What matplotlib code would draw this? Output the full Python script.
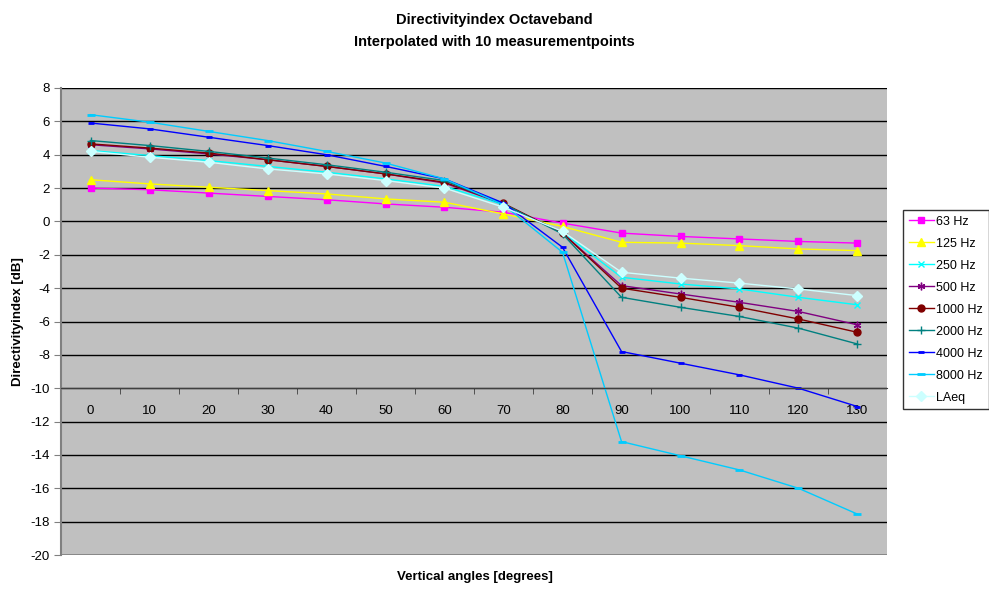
import numpy as np
import matplotlib
matplotlib.use("Agg")
import matplotlib.pyplot as plt

plt.rcParams['font.family'] = ['Liberation Sans', 'DejaVu Sans']
plt.rcParams['axes.unicode_minus'] = False

# vertical angles in degrees
angles = [0, 10, 20, 30, 40, 50, 60, 70, 80, 90, 100, 110, 120, 130]

# directivity index [dB] per octave band
di_63 = [2.0, 1.9, 1.7, 1.5, 1.3, 1.05, 0.85, 0.55, -0.1, -0.7, -0.9, -1.05, -1.2, -1.3]
di_125 = [2.5, 2.25, 2.05, 1.85, 1.65, 1.35, 1.15, 0.45, -0.3, -1.25, -1.3, -1.45, -1.65, -1.75]
di_250 = [4.25, 3.95, 3.65, 3.3, 2.95, 2.55, 2.1, 1.0, -0.65, -3.35, -3.75, -4.05, -4.55, -5.0]
di_500 = [4.6, 4.35, 4.05, 3.7, 3.3, 2.85, 2.3, 1.05, -0.7, -3.85, -4.35, -4.85, -5.4, -6.2]
di_1000 = [4.65, 4.4, 4.1, 3.7, 3.3, 2.85, 2.35, 1.08, -0.7, -4.0, -4.55, -5.15, -5.85, -6.65]
di_2000 = [4.85, 4.55, 4.2, 3.8, 3.4, 2.95, 2.45, 1.05, -0.75, -4.55, -5.15, -5.7, -6.4, -7.35]
di_4000 = [5.9, 5.55, 5.05, 4.55, 4.0, 3.3, 2.55, 1.1, -1.55, -7.8, -8.5, -9.2, -10.0, -11.1]
di_8000 = [6.4, 5.95, 5.4, 4.85, 4.2, 3.5, 2.55, 1.0, -1.85, -13.2, -14.05, -14.9, -16.0, -17.55]
di_laeq = [4.2, 3.85, 3.55, 3.15, 2.85, 2.45, 2.0, 0.85, -0.6, -3.05, -3.4, -3.7, -4.05, -4.45]

labels = ['63 Hz', '125 Hz', '250 Hz', '500 Hz', '1000 Hz', '2000 Hz', '4000 Hz', '8000 Hz', 'LAeq']
series = [di_63, di_125, di_250, di_500, di_1000, di_2000, di_4000, di_8000, di_laeq]
colors = ['#FF00FF', '#FFFF00', '#00FFFF', '#800080', '#800000', '#008080', '#0000FF', '#00CCFF', '#CCFFFF']
markers = ['s', '^', 'x', (6, 2, 0), 'o', '+', '_', '_', 'D']
msizes = [5, 6, 4.5, 5.5, 5, 5.5, 4, 6, 5]

fig = plt.figure(figsize=(9.89, 5.9), dpi=100)
ax = fig.add_axes([61 / 989, 1 - 555 / 590, 826 / 989, 467 / 590])
ax.set_facecolor('#C0C0C0')

for vals, lab, col, mk, ms in zip(series, labels, colors, markers, msizes):
    mew = 2.0 if mk == '_' else 1.0
    ax.plot(angles, vals, color=col, marker=mk, markersize=ms, markeredgewidth=mew,
            markerfacecolor=col, markeredgecolor=col, linewidth=1.0, label=lab)

ax.set_xlim(-5, 135)
ax.set_ylim(-20, 8)
ax.set_yticks(np.arange(-20, 9, 2))
ax.yaxis.grid(True, color='black', linewidth=1.0)
ax.set_axisbelow(True)

# category axis crosses at -10
ax.spines['bottom'].set_position(('data', -10))
ax.spines['bottom'].set_color('#404040')
ax.spines['top'].set_visible(False)
ax.spines['right'].set_visible(False)
ax.spines['left'].set_color('#808080')
ax.spines['left'].set_linewidth(1.5)
ax.set_xticks(angles)
ax.set_xticks([a + 5 for a in angles[:-1]] + [-5], minor=True)
ax.tick_params(axis='x', which='major', length=0, pad=12, labelsize=9.5)
ax.tick_params(axis='x', which='minor', length=4, direction='out', color='#404040')
ax.tick_params(axis='y', length=5, color='#808080', labelsize=9.5, pad=3)
ax.axhline(-20, color='#404040', linewidth=1.0)

fig.text(0.5, 1 - 20 / 590, 'Directivityindex Octaveband', ha='center', va='center',
         fontsize=10.5, fontweight='bold')
fig.text(0.5, 1 - 42 / 590, 'Interpolated with 10 measurementpoints', ha='center', va='center',
         fontsize=10.5, fontweight='bold')
fig.text(18 / 989, 1 - 322 / 590, 'Directivityindex [dB]', rotation=90, ha='center', va='center',
         fontsize=9.5, fontweight='bold')
fig.text(475 / 989, 1 - 577 / 590, 'Vertical angles [degrees]', ha='center', va='center',
         fontsize=9.5, fontweight='bold')

leg = fig.legend(loc='upper left', bbox_to_anchor=(903 / 989, 1 - 210 / 590), fontsize=9,
                 frameon=True, fancybox=False, edgecolor='black', labelspacing=0.8,
                 handlelength=2.0, borderpad=0.45, handletextpad=0.2, borderaxespad=0)
leg.get_frame().set_linewidth(1.0)

fig.savefig('out.png', dpi=100, facecolor='white')
